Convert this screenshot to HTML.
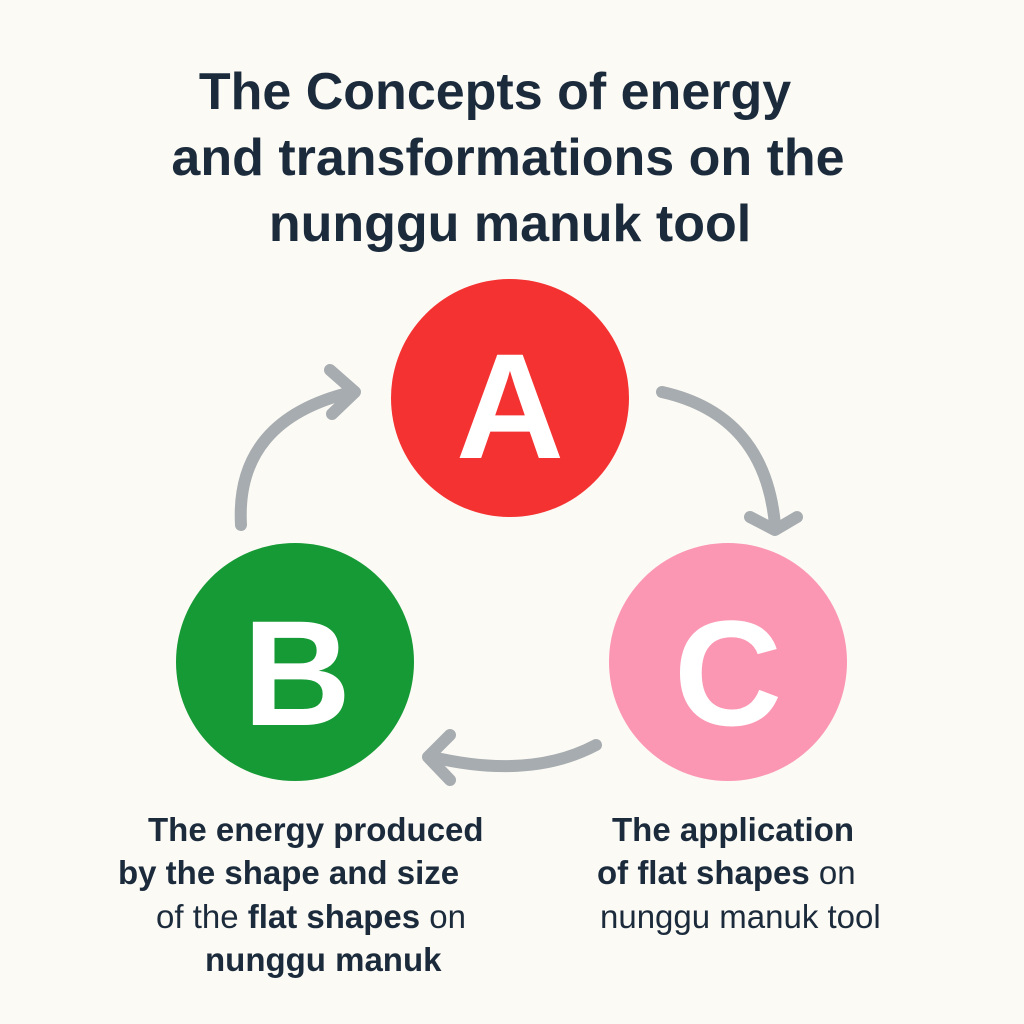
<!DOCTYPE html>
<html><head><style>
html,body{margin:0;padding:0;background:#fcfaf5;}
body{width:1024px;height:1024px;position:relative;overflow:hidden;font-family:"Liberation Sans",sans-serif;color:#1b2b3c;}
.t{position:absolute;width:800px;text-align:center;font-size:52px;font-weight:bold;letter-spacing:0px;}
.l{position:absolute;font-size:33px;white-space:nowrap;}
.b{font-weight:bold;}
</style></head><body>
<div class="t" style="top:62px;left:95px">The Concepts of energy</div>
<div class="t" style="top:128px;left:108px">and transformations on the</div>
<div class="t" style="top:194px;left:110px">nunggu manuk tool</div>
<svg width="1024" height="1024" style="position:absolute;left:0;top:0">
<circle cx="510" cy="398" r="119" fill="#f53232"/>
<circle cx="295" cy="662" r="119" fill="#169a36"/>
<circle cx="728" cy="662" r="119" fill="#fb97b3"/>
<g fill="none" stroke="#a6acaf" stroke-width="12" stroke-linecap="round" stroke-linejoin="round">
<path d="M241 525 Q235 420 352 392"/>
<path d="M330 370 L355 392 L332 414"/>
<path d="M662 392 Q765 415 775 525"/>
<path d="M750 517 L775 530 L797 517"/>
<path d="M596 745 Q530 780 432 757"/>
<path d="M450 735 L428 757 L450 780"/>
</g>
<g font-family="Liberation Sans,sans-serif" font-weight="bold" fill="#fff" text-anchor="middle" font-size="150">
<text x="510" y="458">A</text>
<text x="297" y="725">B</text>
<text x="728" y="725">C</text>
</g>
</svg>
<div class="l" style="left:148px;top:811px"><span class="b">The energy produced</span></div>
<div class="l" style="left:118px;top:854px"><span class="b">by the shape and size</span></div>
<div class="l" style="left:156px;top:898px">of the <span class="b">flat shapes</span> on</div>
<div class="l" style="left:205px;top:941px"><span class="b">nunggu manuk</span></div>
<div class="l" style="left:612px;top:811px"><span class="b">The application</span></div>
<div class="l" style="left:597px;top:854px"><span class="b">of flat shapes</span> on</div>
<div class="l" style="left:600px;top:898px">nunggu manuk tool</div>
</body></html>
